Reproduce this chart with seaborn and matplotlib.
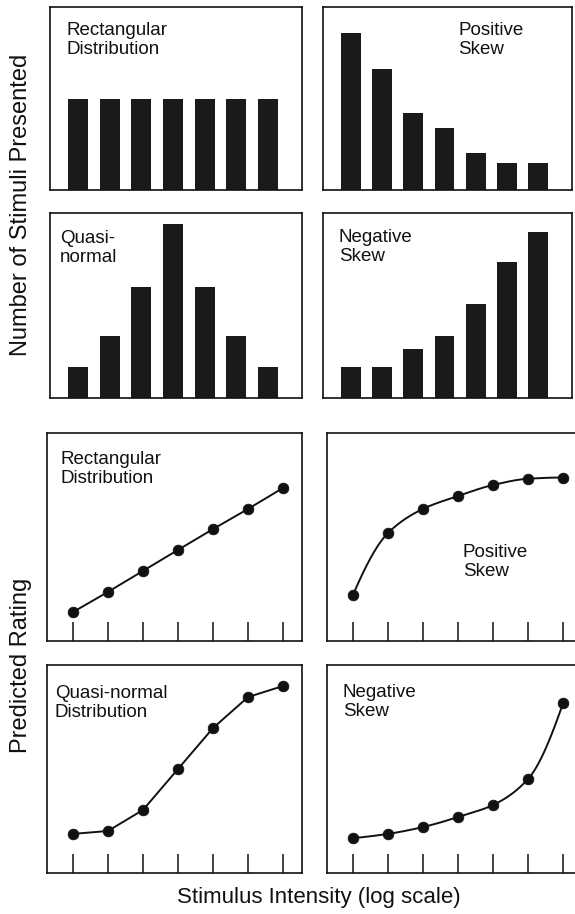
import numpy as np
import pandas as pd
import matplotlib
matplotlib.use("Agg")
import matplotlib.pyplot as plt
import seaborn as sns

# Stimulus levels (seven equally spaced log intensities)
levels = [1, 2, 3, 4, 5, 6, 7]

# Number of presentations of each stimulus, per distribution
rect_counts = [5.0, 5.0, 5.0, 5.0, 5.0, 5.0, 5.0]
pos_counts = [8.6, 6.6, 4.2, 3.4, 2.0, 1.5, 1.5]
quasi_counts = [1.7, 3.35, 6.0, 9.4, 6.0, 3.35, 1.7]
neg_counts = [1.7, 1.7, 2.65, 3.35, 5.1, 7.35, 9.0]

# Predicted category rating for each stimulus, per distribution
rect_ratings = [1.39, 2.36, 3.37, 4.38, 5.38, 6.35, 7.36]
pos_ratings = [2.21, 5.19, 6.35, 6.97, 7.50, 7.80, 7.86]
quasi_ratings = [1.88, 2.02, 3.03, 5.00, 6.97, 8.46, 8.99]
neg_ratings = [1.68, 1.88, 2.21, 2.69, 3.27, 4.52, 8.17]

sns.set_theme(style="white")
plt.rcParams["font.family"] = ["Liberation Sans", "DejaVu Sans"]

W, H = 575, 914
DPI = 100
fig = plt.figure(figsize=(W / DPI, H / DPI), dpi=DPI)
fig.patch.set_facecolor("white")

INK = "#111111"
BAR = "#1a1a1a"
LABEL_FS = 13.5
AXIS_FS = 16
YAXIS_FS = 17


def px_axes(x0, y0, x1, y1):
    """Add axes from a pixel box (top-left origin)."""
    return fig.add_axes([x0 / W, 1 - y1 / H, (x1 - x0) / W, (y1 - y0) / H])


def px_text(x, y, s, **kw):
    fig.text(x / W, 1 - y / H, s, **kw)


def frame(ax):
    for sp in ax.spines.values():
        sp.set_visible(True)
        sp.set_linewidth(1.2)
        sp.set_color(INK)
    ax.set_facecolor("white")


def pchip(x, y, xs):
    """Monotone cubic curve through the points, for drawing a smooth line."""
    x = np.asarray(x, float)
    y = np.asarray(y, float)
    h = np.diff(x)
    delta = np.diff(y) / h
    n = len(x)
    d = np.zeros(n)
    for k in range(1, n - 1):
        if delta[k - 1] * delta[k] > 0:
            w1 = 2 * h[k] + h[k - 1]
            w2 = h[k] + 2 * h[k - 1]
            d[k] = (w1 + w2) / (w1 / delta[k - 1] + w2 / delta[k])

    def end(h0, h1, d0, d1):
        v = ((2 * h0 + h1) * d0 - h0 * d1) / (h0 + h1)
        if np.sign(v) != np.sign(d0):
            return 0.0
        if np.sign(d0) != np.sign(d1) and abs(v) > abs(3 * d0):
            return 3 * d0
        return v

    d[0] = end(h[0], h[1], delta[0], delta[1])
    d[-1] = end(h[-1], h[-2], delta[-1], delta[-2])
    idx = np.clip(np.searchsorted(x, xs) - 1, 0, n - 2)
    t = (xs - x[idx]) / h[idx]
    h00 = 2 * t**3 - 3 * t**2 + 1
    h10 = t**3 - 2 * t**2 + t
    h01 = -2 * t**3 + 3 * t**2
    h11 = t**3 - t**2
    return (h00 * y[idx] + h10 * h[idx] * d[idx]
            + h01 * y[idx + 1] + h11 * h[idx] * d[idx + 1])


# ---- Top: stimulus frequency distributions ----
bar_panels = [
    ((50, 7, 302, 190), rect_counts, "Rectangular\nDistribution", (67, 22)),
    ((323, 7, 572, 190), pos_counts, "Positive\nSkew", (458, 22)),
    ((50, 213, 302, 398), quasi_counts, "Quasi-\nnormal", (60, 230)),
    ((323, 213, 572, 398), neg_counts, "Negative\nSkew", (339, 229)),
]
for box, counts, label, (tx, ty) in bar_panels:
    ax = px_axes(*box)
    df = pd.DataFrame({"level": levels, "count": counts})
    sns.barplot(data=df, x="level", y="count", order=levels, color=BAR,
                saturation=1, width=0.635, edgecolor="none", ax=ax)
    ax.set_xlim(-0.89, 7.08)
    ax.set_ylim(0, 10)
    ax.set_xticks([])
    ax.set_yticks([])
    ax.set_xlabel("")
    ax.set_ylabel("")
    frame(ax)
    px_text(tx, ty, label, fontsize=LABEL_FS, ha="left", va="top",
            color=INK, linespacing=1.15)

# ---- Bottom: predicted ratings ----
line_panels = [
    ((47, 433, 302, 641), rect_ratings, False, "Rectangular\nDistribution", (61, 451)),
    ((327, 433, 582, 641), pos_ratings, True, "Positive\nSkew", (463, 544)),
    ((47, 665, 302, 873), quasi_ratings, False, "Quasi-normal\nDistribution", (55, 685)),
    ((327, 665, 582, 873), neg_ratings, True, "Negative\nSkew", (343, 684)),
]
for box, ratings, smooth, label, (tx, ty) in line_panels:
    ax = px_axes(*box)
    df = pd.DataFrame({"level": levels, "rating": ratings})
    if smooth:
        xs = np.linspace(levels[0], levels[-1], 300)
        curve = pd.DataFrame({"level": xs, "rating": pchip(levels, ratings, xs)})
        sns.lineplot(data=curve, x="level", y="rating", color=INK, lw=1.4,
                     ax=ax)
    else:
        sns.lineplot(data=df, x="level", y="rating", color=INK, lw=1.4, ax=ax)
    sns.scatterplot(data=df, x="level", y="rating", color=INK, s=60,
                    edgecolor=INK, linewidth=0.5, zorder=5, ax=ax)
    ax.set_xlim(levels[0] - 0.74, levels[-1] + 0.54)
    ax.set_ylim(0, 10)
    ax.set_xticks(levels)
    ax.set_yticks([])
    ax.tick_params(axis="x", direction="in", length=14, width=1.1,
                   color=INK, bottom=True, labelbottom=False)
    ax.set_xlabel("")
    ax.set_ylabel("")
    frame(ax)
    px_text(tx, ty, label, fontsize=LABEL_FS, ha="left", va="top",
            color=INK, linespacing=1.15)

# ---- Shared axis titles ----
px_text(21, 205, "Number of Stimuli Presented", fontsize=YAXIS_FS,
        rotation=90, ha="center", va="center", color=INK)
px_text(21, 665, "Predicted Rating", fontsize=YAXIS_FS,
        rotation=90, ha="center", va="center", color=INK)
px_text(319, 898, "Stimulus Intensity (log scale)", fontsize=AXIS_FS,
        ha="center", va="center", color=INK)

fig.savefig("out.png", dpi=DPI, facecolor="white")
